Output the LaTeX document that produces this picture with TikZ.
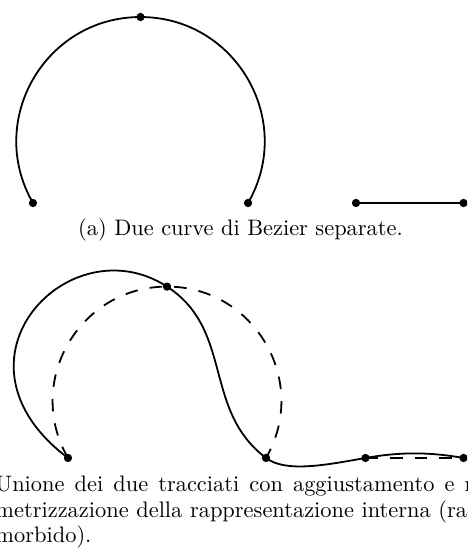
\documentclass[tikz,border=0pt]{standalone}
\usepackage{tikz}

\begin{document}
\begin{tikzpicture}[line cap=round,
  dot/.style={circle,fill,inner sep=0pt,minimum size=3.7pt},
  trace/.style={line width=0.8pt},
  guide/.style={line width=0.8pt,dash pattern=on 5.6pt off 5.4pt,line cap=butt}]
\useasboundingbox (0,0) rectangle (7.323,8.624);
\clip (0,0) rectangle (7.323,8.624);
% (a) the two separate curves
\coordinate (a1) at (0.517,5.441);
\coordinate (a2) at (2.203,8.357);
\coordinate (a3) at (3.889,5.441);
\coordinate (a4) at (5.582,5.441);
\coordinate (a5) at (7.268,5.441);
\draw[trace] (a1) to[out=120,in=180,looseness=1.135] (a2)
  to[out=0,in=60,looseness=1.135] (a3);
\draw[trace] (a4) -- (a5);
\foreach \p in {a1,a2,a3,a4,a5} \node[dot] at (\p) {};
\node[anchor=base] (capa) at (3.771,4.931) {(a) Due curve di Bezier separate.};
% (b) joined path, old shape dashed
\coordinate (b1) at (1.066,1.443);
\coordinate (b2) at (2.619,4.130);
\coordinate (b3) at (4.171,1.443);
\coordinate (b4) at (5.731,1.443);
\coordinate (b5) at (7.268,1.443);
\draw[guide] (b1) to[out=120,in=180,looseness=1.135] (b2)
  to[out=0,in=60,looseness=1.135] (b3);
\draw[guide] (b4) -- (b5);
\draw[trace] (b1) to[out=143,in=147,out distance=2.55cm,in distance=1.82cm] (b2)
  to[out=-33,in=143,out distance=1.25cm,in distance=1.25cm] (b3)
  to[out=-37,in=190,out distance=0.39cm,in distance=0.63cm] (b4)
  to[out=10,in=170,out distance=0.55cm,in distance=0.55cm] (b5);
\foreach \p in {b1,b2,b3,b4,b5} \node[dot] at (\p) {};
\node[anchor=north west,inner sep=0pt,text width=238.8pt,align=justify,
  font={\fontsize{10}{11.4}\selectfont}] (capb) at (-0.078,1.168)
  {Unione dei due tracciati con aggiustamento e ripara-\linebreak
   metrizzazione della rappresentazione interna (raccordo\linebreak
   morbido).};
\end{tikzpicture}
\end{document}
